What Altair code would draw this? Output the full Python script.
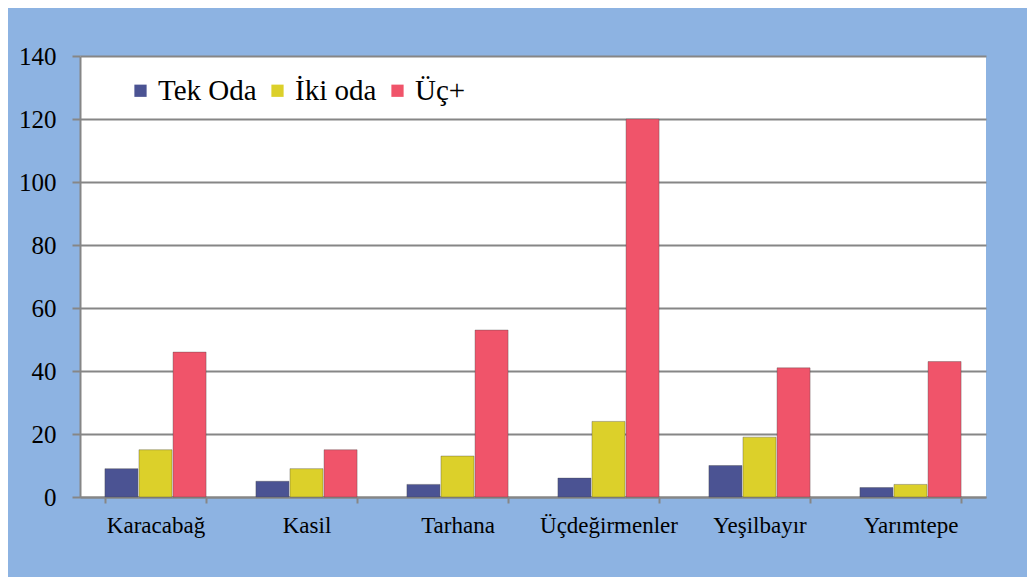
import altair as alt
import pandas as pd

categories = ["Karacabağ", "Kasil", "Tarhana", "Üçdeğirmenler", "Yeşilbayır", "Yarımtepe"]
series = ["Tek Oda", "İki oda", "Üç+"]
tek_oda = [9, 5, 4, 6, 10, 3]
iki_oda = [15, 9, 13, 24, 19, 4]
uc_arti = [46, 15, 53, 120, 41, 43]
colors = ["#4B5393", "#DCD02A", "#F0546A"]
y_ticks = [0, 20, 40, 60, 80, 100, 120, 140]

rows = []
for i, c in enumerate(categories):
    for s, vals in zip(series, [tek_oda, iki_oda, uc_arti]):
        rows.append({"Mahalle": c, "Seri": s, "Değer": vals[i]})
df = pd.DataFrame(rows)

FONT = "Liberation Serif"

chart = alt.Chart(df).mark_bar(
    stroke="#444444", strokeWidth=0.8, strokeOpacity=0.45
).encode(
    x=alt.X("Mahalle:N", sort=categories, title=None,
            scale=alt.Scale(paddingInner=0.33, paddingOuter=0.165),
            axis=alt.Axis(labelAngle=0, labelFont=FONT, labelFontSize=23,
                          labelColor="#000000", labelPadding=11,
                          tickBand="extent", tickSize=6, tickColor="#868686",
                          tickWidth=2, domainColor="#868686", domainWidth=2,
                          grid=False)),
    xOffset=alt.XOffset("Seri:N", sort=series, scale=alt.Scale(paddingInner=0.03)),
    y=alt.Y("Değer:Q", title=None,
            scale=alt.Scale(domain=[0, 140], nice=False),
            axis=alt.Axis(values=y_ticks, labelFont=FONT, labelFontSize=25,
                          labelColor="#000000", labelPadding=16, tickSize=8,
                          tickColor="#868686", tickWidth=2,
                          domainColor="#868686", domainWidth=2,
                          gridColor="#868686", gridWidth=2)),
    color=alt.Color("Seri:N", sort=series,
                    scale=alt.Scale(domain=series, range=colors),
                    legend=alt.Legend(title=None, orient="none", legendX=46, legendY=20,
                                      direction="horizontal", symbolType="square",
                                      symbolSize=150, labelFont=FONT, labelFontSize=29,
                                      labelColor="#000000", columnPadding=6,
                                      labelOffset=3, symbolStrokeWidth=0)),
).properties(
    width=906, height=441,
    autosize=alt.AutoSizeParams(type="none"),
    padding={"left": 72, "top": 48, "right": 41, "bottom": 80},
    background="#8DB3E2",
).configure(
    font=FONT
).configure_view(
    fill="#FFFFFF", stroke=None
)

chart.save("out.html", embed_options={"renderer": "svg", "actions": False})
